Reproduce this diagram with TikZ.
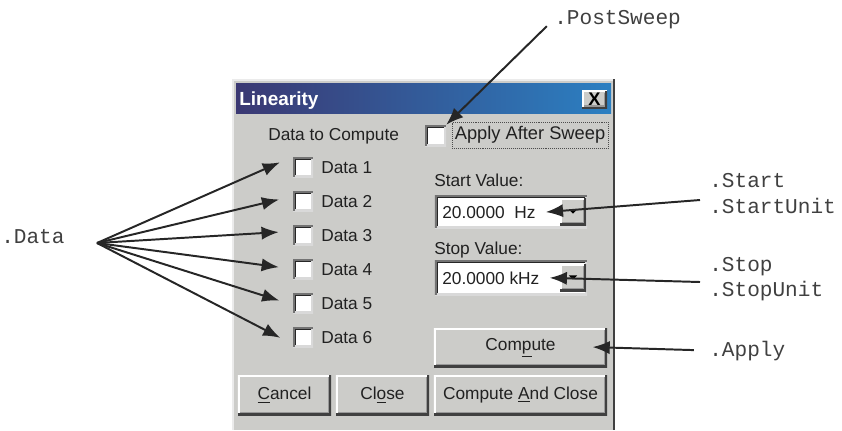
\documentclass[tikz,border=0pt]{standalone}
\usepackage{fontspec}
\setmainfont{Liberation Sans}
\setmonofont{Liberation Mono}
\usetikzlibrary{positioning, arrows.meta}
\definecolor{dlggray}{rgb}{0.80,0.80,0.79}
\definecolor{titleleft}{rgb}{0.23,0.22,0.45}
\definecolor{titleright}{rgb}{0.17,0.50,0.76}
\definecolor{uitext}{rgb}{0.13,0.13,0.13}
\newcommand{\uifont}{\fontsize{12.3}{14}\selectfont}
\newcommand{\annfont}{\ttfamily\fontsize{15}{18}\selectfont}
% bevel edges for the widgets
\newcommand{\raisededges}{%
  \draw[white, line width=2.4pt] (path picture bounding box.south west) -- (path picture bounding box.north west) -- (path picture bounding box.north east);
  \draw[black!75, line width=2.4pt] (path picture bounding box.south west) -- (path picture bounding box.south east) -- (path picture bounding box.north east);
  \draw[black!40, line width=1pt] ([shift={(1.5pt,1.7pt)}]path picture bounding box.south west) -- ([shift={(-1.7pt,1.7pt)}]path picture bounding box.south east) -- ([shift={(-1.7pt,-1.5pt)}]path picture bounding box.north east);}
\newcommand{\sunkenedges}{%
  \draw[white!85!black, line width=2.4pt] (path picture bounding box.south west) -- (path picture bounding box.south east) -- (path picture bounding box.north east);
  \draw[black!55, line width=2.4pt] (path picture bounding box.south west) -- (path picture bounding box.north west) -- (path picture bounding box.north east);
  \draw[black!85, line width=1pt] ([shift={(1.7pt,1.5pt)}]path picture bounding box.south west) -- ([shift={(1.7pt,-1.7pt)}]path picture bounding box.north west) -- ([shift={(-1.5pt,-1.7pt)}]path picture bounding box.north east);}

\begin{document}
\begin{tikzpicture}[
        x=0.025cm, y=-0.025cm,
        uilabel/.style={anchor=base west, inner sep=0, font=\uifont, text=uitext},
        valtext/.style={uilabel, inner xsep=0.25cm},
        annot/.style={anchor=base west, inner sep=0, font=\annfont, text=black!75},
        checkbox/.style={rectangle, fill=white, minimum size=0.5cm, inner sep=0, path picture={\sunkenedges}},
        textbox/.style={rectangle, fill=white, minimum width=3.8cm, inner sep=0, path picture={\sunkenedges}},
        raised/.style={rectangle, fill=dlggray, inner sep=0, font=\uifont, text=uitext, path picture={\raisededges}},
        dropbtn/.style={rectangle, fill=dlggray, inner sep=0, minimum width=0.65cm, minimum height=0.675cm,
            path picture={\raisededges
                \fill[black] ([shift={(-3pt,1.5pt)}]path picture bounding box.center) -- ([shift={(3pt,1.5pt)}]path picture bounding box.center) -- ([shift={(0pt,-1.5pt)}]path picture bounding box.center) -- cycle;}},
        focusbox/.style={rectangle, draw=black!70, densely dotted, minimum width=3.9cm, minimum height=0.65cm, inner sep=0, font=\fontsize{13}{15}\selectfont, text=uitext},
        arrow/.style={-{Latex[length=4.3mm, width=3.3mm]}, line width=1.4pt, black!85}
    ]
    \useasboundingbox (0,0) rectangle (842,430);

    % Dialog window
    \fill[dlggray] (232,79) rectangle (615,430);
    \draw[white!92!black, line width=1pt] (233,430) -- (233,80) -- (613,80);
    \draw[black!75, line width=1.4pt] (614,79) -- (614,430);
    \shade[left color=titleleft, right color=titleright] (236,83) rectangle (611,113);
    \node[anchor=base west, inner sep=0, font=\fontsize{13.5}{16}\selectfont\bfseries, text=white] (title) at (239,105) {Linearity};
    \node[raised, minimum width=0.625cm, minimum height=0.45cm, font=\fontsize{13}{14}\selectfont\bfseries, text=black] (closex) at (594.5,99.5) {X};

    % Data selection
    \node[uilabel] (datahead) at (268,140) {Data to Compute};
    \node[checkbox] (chk1) at (303,167) {};
    \node[checkbox] (chk2) at (303,201) {};
    \node[checkbox] (chk3) at (303,235) {};
    \node[checkbox] (chk4) at (303,269) {};
    \node[checkbox] (chk5) at (303,303) {};
    \node[checkbox] (chk6) at (303,337) {};
    \node[uilabel] (data1) at (321,173) {Data 1};
    \node[uilabel] (data2) at (321,207) {Data 2};
    \node[uilabel] (data3) at (321,241) {Data 3};
    \node[uilabel] (data4) at (321,275) {Data 4};
    \node[uilabel] (data5) at (321,309) {Data 5};
    \node[uilabel] (data6) at (321,343) {Data 6};

    % Sweep option
    \node[checkbox, minimum size=0.525cm] (applychk) at (435.5,135.5) {};
    \node[focusbox] (applytxt) at (530,135) {Apply After Sweep};

    % Start and stop values
    \node[uilabel] (startlbl) at (434,186) {Start Value:};
    \node[textbox, minimum height=0.825cm] (startbox) at (511,211.5) {};
    \node[dropbtn] (startdrop) at (573,211.5) {};
    \node[valtext] (starttxt) at (432,218) {20.0000\ \ Hz};
    \node[uilabel] (stoplbl) at (434,254) {Stop Value:};
    \node[textbox, minimum height=0.875cm] (stopbox) at (511,277.5) {};
    \node[dropbtn] (stopdrop) at (573,277.5) {};
    \node[valtext] (stoptxt) at (432,284) {20.0000 kHz};

    % Buttons
    \node[raised, minimum width=4.325cm, minimum height=0.975cm] (computebtn) at (520.5,347.5) {Com\underline{p}ute};
    \node[raised, minimum width=2.325cm, minimum height=1cm] (cancelbtn) at (284.5,395) {\underline{C}ancel};
    \node[raised, minimum width=2.325cm, minimum height=1cm] (closebtn) at (382.5,395) {Cl\underline{o}se};
    \node[raised, minimum width=4.325cm, minimum height=1cm] (cacbtn) at (520.5,395) {Compute \underline{A}nd Close};

    % Property names
    \node[annot] (lblPost) at (554,24) {.PostSweep};
    \node[annot] (lblData) at (1,243) {.Data};
    \node[annot] (lblStart) at (709,187) {.Start};
    \node[annot] (lblStartUnit) at (709,213) {.StartUnit};
    \node[annot] (lblStop) at (709,271) {.Stop};
    \node[annot] (lblStopUnit) at (709,296) {.StopUnit};
    \node[annot] (lblApply) at (709,356) {.Apply};
    \coordinate (datafan) at (97,243);
    \coordinate (startfrom) at (700,200);
    \coordinate (stopfrom) at (700,282);

    % Arrows
    \draw[arrow, shorten <=0.25cm] (lblPost.west) -- (applychk.north east);
    \draw[arrow, shorten >=0.35cm] (datafan) -- (chk1.north west);
    \draw[arrow, shorten >=0.35cm] (datafan) -- (chk2.155);
    \draw[arrow, shorten >=0.35cm] (datafan) -- (chk3.160);
    \draw[arrow, shorten >=0.35cm] (datafan) -- (chk4.west);
    \draw[arrow, shorten >=0.35cm] (datafan) -- (chk5.190);
    \draw[arrow, shorten >=0.35cm] (datafan) -- (chk6.215);
    \draw[arrow] (startfrom) -- (starttxt.east);
    \draw[arrow] (stopfrom) -- (stoptxt.east);
    \draw[arrow, shorten <=0.38cm, shorten >=-0.37cm] (lblApply.west) -- (computebtn.east);

\end{tikzpicture}
\end{document}
